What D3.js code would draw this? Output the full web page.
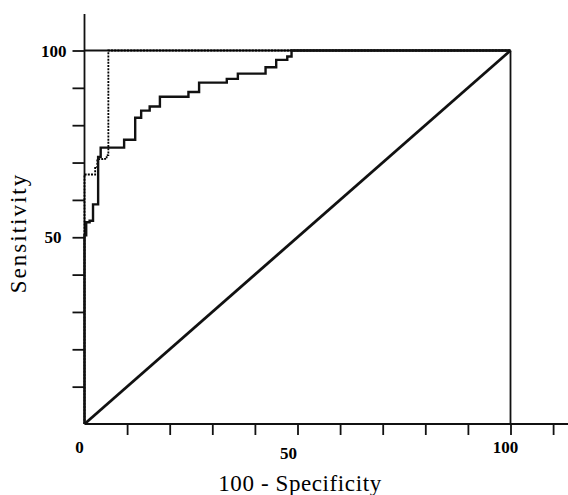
<!DOCTYPE html>
<html>
<head>
<meta charset="utf-8">
<script src="https://cdn.jsdelivr.net/npm/d3@7"></script>
<style>
  body { margin: 0; background: #fff; }
  svg { display: block; }
  .tick-label { font-family: "Liberation Serif", "Times New Roman", serif; font-weight: bold; font-size: 17px; }
  .axis-title { font-family: "Liberation Serif", "Times New Roman", serif; font-size: 23px; }
</style>
</head>
<body>
<div id="chart"></div>
<script>
// ROC curves (100 - specificity vs sensitivity)
const solidFpr  = [0, 0, 0.4, 1.2, 2.0, 3.2, 3.8, 9.3, 11.9, 13.3, 15.3, 17.7, 24.4, 26.9, 33.4, 36.0, 42.5, 45.0, 47.6, 48.6, 100];
const solidSens = [0, 50.5, 54, 54.4, 58.8, 71.5, 74, 76.1, 82, 83.9, 85, 87.6, 88.9, 91.4, 92.4, 93.8, 95.5, 97.5, 98.4, 100, 100];
const dottedFpr  = [0, 0, 2.5, 3.0, 4.2, 5.2, 5.6, 100];
const dottedSens = [0, 66.8, 68.8, 70.9, 71.0, 72.0, 100, 100];

const xTicks = [10, 20, 30, 40, 50, 60, 70, 80, 90, 100, 110];
const yTicks = [10, 20, 30, 40, 50, 60, 70, 80, 90, 100];
const xTickLabels = [0, 50, 100];
const yTickLabels = [50, 100];

const width = 568, height = 495;

const svg = d3.select("#chart")
    .append("svg")
    .attr("width", width)
    .attr("height", height);

const x = d3.scaleLinear().domain([0, 100]).range([84.5, 510.5]);
const y = d3.scaleLinear().domain([0, 100]).range([424, 50.5]);

// axes
const xAxis = svg.append("g")
    .attr("transform", `translate(0,${y(0)})`)
    .call(d3.axisBottom(x).tickValues(xTicks).tickSize(11).tickFormat(""));
xAxis.select(".domain").attr("d", `M${x(0)},0H${width}`);

const yAxis = svg.append("g")
    .attr("transform", `translate(${x(0)},0)`)
    .call(d3.axisLeft(y).tickValues(yTicks).tickSize(12).tickFormat(""));
yAxis.select(".domain").attr("d", `M0,${y(0)}V14`);

svg.selectAll(".domain, .tick line")
    .attr("stroke", "#111")
    .attr("stroke-width", 1.8);

// tick labels (placed slightly off the ticks, as in the print)
const xLabelShift = { 0: [-5, 0], 50: [-9, 6], 100: [-5, 0] };
svg.selectAll(".xlab")
    .data(xTickLabels)
    .enter().append("text")
    .attr("class", "tick-label")
    .attr("text-anchor", "middle")
    .attr("x", d => x(d) + xLabelShift[d][0])
    .attr("y", d => y(0) + 29 + xLabelShift[d][1])
    .text(d => d);

svg.selectAll(".ylab")
    .data(yTickLabels)
    .enter().append("text")
    .attr("class", "tick-label")
    .attr("text-anchor", "end")
    .attr("x", d => x(0) - (d === 100 ? 18 : 23))
    .attr("y", d => y(d) + 6)
    .text(d => d);

// frame lines at 100
svg.append("line")
    .attr("x1", x(0)).attr("x2", x(100))
    .attr("y1", y(100)).attr("y2", y(100))
    .attr("stroke", "#111").attr("stroke-width", 2);
svg.append("line")
    .attr("x1", x(100)).attr("x2", x(100))
    .attr("y1", y(100)).attr("y2", y(0))
    .attr("stroke", "#111").attr("stroke-width", 1.8);

// diagonal
svg.append("line")
    .attr("x1", x(0)).attr("y1", y(0))
    .attr("x2", x(100)).attr("y2", y(100))
    .attr("stroke", "#111").attr("stroke-width", 2.8);

const line = d3.line()
    .x(d => x(d[0]))
    .y(d => y(d[1]))
    .curve(d3.curveStepAfter);

svg.append("path")
    .datum(d3.zip(dottedFpr, dottedSens))
    .attr("fill", "none")
    .attr("stroke", "#000")
    .attr("stroke-width", 1.8)
    .attr("stroke-dasharray", "2,1.2")
    .attr("d", line);

svg.append("path")
    .datum(d3.zip(solidFpr, solidSens))
    .attr("fill", "none")
    .attr("stroke", "#111")
    .attr("stroke-width", 2.4)
    .attr("d", line);

// axis titles
svg.append("text")
    .attr("class", "axis-title")
    .attr("text-anchor", "middle")
    .attr("x", 300)
    .attr("y", 491)
    .attr("letter-spacing", 0.6)
    .text("100 - Specificity");

svg.append("text")
    .attr("class", "axis-title")
    .attr("text-anchor", "middle")
    .attr("transform", "translate(26,233) rotate(-90)")
    .attr("letter-spacing", 2)
    .text("Sensitivity");
</script>
</body>
</html>
